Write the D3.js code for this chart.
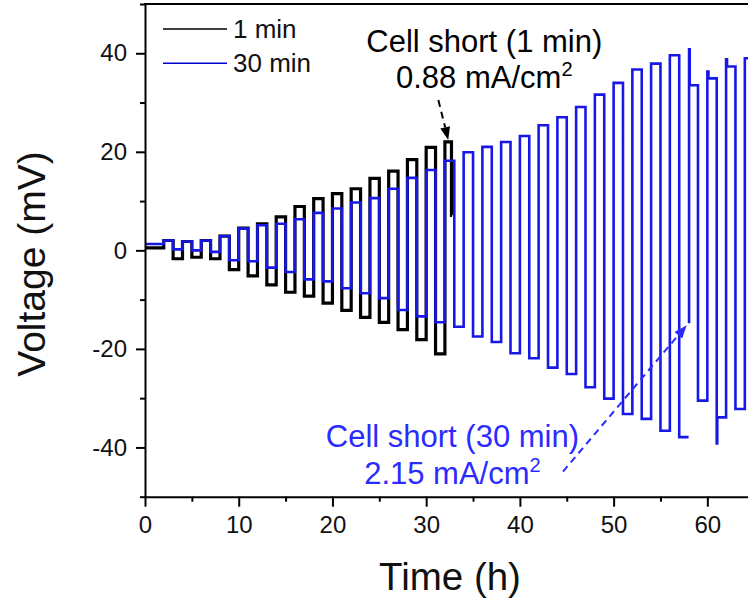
<!DOCTYPE html>
<html>
<head>
<meta charset="utf-8">
<script src="https://cdn.jsdelivr.net/npm/d3@7/dist/d3.min.js"></script>
<style>
  html, body { margin: 0; padding: 0; background: #fff; }
  svg { display: block; }
  text { font-family: "Liberation Sans", Arial, sans-serif; }
</style>
</head>
<body>
<svg id="chart" width="748" height="601"></svg>
<script>
// ---------------- DATA ----------------
// Step series: [start time (h), voltage (mV)]; null = break in trace
const blueSteps = [
  [0,1.3],[2,2.0],[3,0.2],[4,1.8],[5,0.0],[6,2.0],[7,-0.3],[8,2.9],[9,-2.0],
  [10,4.4],[11,-2.2],[12,5.1],[13,-3.5],[14,5.4],[15,-4.4],[16,6.3],[17,-5.9],
  [18,7.6],[19,-6.3],[20,8.5],[21,-7.7],[22,9.7],[23,-8.7],[24,10.6],[25,-9.7],
  [26,12.5],[27,-12.1],[28,14.7],[29,-13.4],[30,16.3],[31,-14.6],[32,18.2],[33,-15.5],
  [34,19.9],[35,-17.5],[36,21.0],[37,-18.6],[38,22.0],[39,-20.9],[40,23.2],[41,-21.9],
  [42,25.4],[43,-23.8],[44,27.0],[45,-25.1],[46,29.1],[47,-27.8],[48,31.6],[49,-30.1],
  [50,34.0],[51,-33.2],[52,36.7],[53,-34.2],[54,37.9],[55,-36.6],[56,39.6],[57,-37.9],
  [58,-37.9], null,
  [58.05,-14.8],[58.05,40.8],[58.12,33.5],[59,-30.5],[60,36.3],[60.12,34.9],
  [61,-39.2],[61.06,-33.9],[62,38.8],[62.1,37.3],[63,-32.2],[64,39.0],[65,-33.5],[66,-33.5]
];
const blackSteps = [
  [0,0.5],[2,2.0],[3,-1.7],[4,1.8],[5,-1.4],[6,2.0],[7,-1.7],[8,2.9],[9,-3.9],
  [10,4.5],[11,-5.2],[12,5.4],[13,-7.0],[14,6.8],[15,-8.5],[16,8.9],[17,-9.3],
  [18,10.5],[19,-10.7],[20,11.5],[21,-12.2],[22,12.5],[23,-13.6],[24,14.6],[25,-14.6],
  [26,16.1],[27,-16.1],[28,18.4],[29,-18.1],[30,20.9],[31,-21.0],[32,22.0],
  [32.7,7.1],[32.75,7.1]
];
const seriesNames = ["1 min", "30 min"];
const seriesColors = ["#000000", "#1818e6"];
const legendColors = ["#000000", "#0000cc"];
const xMajorTicks = [0,10,20,30,40,50,60];
const xMinorTicks = [5,15,25,35,45,55,65];
const yMajorTicks = [-40,-20,0,20,40];
const yMinorTicks = [-50,-30,-10,10,30,50];
const xDomain = [0, 65];
const yDomain = [-50, 50];

// annotations in data coordinates
const annotations = [
  { lines: ["Cell short (1 min)", "0.88 mA/cm"], sup: "2", x: 36.2, y: [40.3, 32.9],
    color: "#000000", arrowFrom: [31.3, 30.5], arrowTo: [32.36, 22.4] },
  { lines: ["Cell short (30 min)", "2.15 mA/cm"], sup: "2", x: 32.8, y: [-39.9, -47.4],
    color: "#2b2bff", arrowFrom: [44.6, -44.9], arrowTo: [57.8, -15.2] }
];

// ---------------- LAYOUT ----------------
const svg = d3.select("#chart");
const L = 145, T = 4, B = 496.7, R = 754.2;
const x = d3.scaleLinear().domain(xDomain).range([L, R]);
const y = d3.scaleLinear().domain(yDomain).range([B, T]);

svg.append("defs").append("clipPath").attr("id", "plotclip")
  .append("rect").attr("x", L).attr("y", T).attr("width", R - L).attr("height", B - T);

const line = d3.line()
  .defined(d => d !== null)
  .x(d => x(d[0])).y(d => y(d[1]))
  .curve(d3.curveStepAfter);

const plot = svg.append("g").attr("clip-path", "url(#plotclip)");
plot.append("path").datum(blackSteps)
  .attr("d", line).attr("fill", "none")
  .attr("stroke", seriesColors[0]).attr("stroke-width", 3.2).attr("stroke-linejoin", "miter");
plot.append("path").datum(blueSteps)
  .attr("d", line).attr("fill", "none")
  .attr("stroke", seriesColors[1]).attr("stroke-width", 2.6).attr("stroke-linejoin", "miter");

// ---------------- AXES ----------------
const fmt = d => String(d);
svg.append("g").attr("transform", `translate(0,${B})`)
  .call(d3.axisBottom(x).tickValues(xMajorTicks).tickFormat(fmt).tickSize(10).tickPadding(9).tickSizeOuter(0));
svg.append("g").attr("transform", `translate(0,${B})`)
  .call(d3.axisBottom(x).tickValues(xMinorTicks).tickFormat("").tickSize(5).tickSizeOuter(0))
  .select(".domain").remove();
svg.append("g").attr("transform", `translate(${L},0)`)
  .call(d3.axisLeft(y).tickValues(yMajorTicks).tickFormat(fmt).tickSize(9).tickPadding(9).tickSizeOuter(0));
svg.append("g").attr("transform", `translate(${L},0)`)
  .call(d3.axisLeft(y).tickValues(yMinorTicks).tickFormat("").tickSize(5).tickSizeOuter(0))
  .select(".domain").remove();

svg.selectAll(".domain").attr("stroke", "#000").attr("stroke-width", 2);
svg.selectAll(".tick line").attr("stroke", "#000").attr("stroke-width", 2);
svg.selectAll(".tick text").attr("font-size", 24).attr("fill", "#111")
  .attr("font-family", "Liberation Sans, Arial, sans-serif");

// top frame line
svg.append("line").attr("x1", L - 1).attr("x2", R).attr("y1", T).attr("y2", T)
  .attr("stroke", "#000").attr("stroke-width", 2);

// axis titles
svg.append("text").attr("x", 450).attr("y", 590)
  .attr("text-anchor", "middle").attr("font-size", 38.5).attr("fill", "#111").text("Time (h)");
svg.append("text").attr("transform", "translate(45,264) rotate(-90)")
  .attr("text-anchor", "middle").attr("font-size", 39).attr("fill", "#111").text("Voltage (mV)");

// ---------------- LEGEND ----------------
const legendY = [29, 63.3];
seriesNames.forEach((name, i) => {
  svg.append("line").attr("x1", 163).attr("x2", 227).attr("y1", legendY[i]).attr("y2", legendY[i])
    .attr("stroke", legendColors[i]).attr("stroke-width", 1.6);
  svg.append("text").attr("x", 233).attr("y", legendY[i] + 9)
    .attr("font-size", 26).attr("fill", "#111").text(name);
});

// ---------------- ANNOTATIONS ----------------
annotations.forEach(a => {
  a.lines.forEach((ln, j) => {
    const t = svg.append("text").attr("x", x(a.x)).attr("y", y(a.y[j]))
      .attr("text-anchor", "middle").attr("font-size", 31).attr("fill", a.color);
    t.append("tspan").text(ln);
    if (j === 1) t.append("tspan").attr("dy", -12).attr("font-size", 20).text(a.sup);
  });
  const x1 = x(a.arrowFrom[0]), y1 = y(a.arrowFrom[1]);
  const x2 = x(a.arrowTo[0]), y2 = y(a.arrowTo[1]);
  const ang = Math.atan2(y2 - y1, x2 - x1);
  const hl = 13, hw = 5;
  const bx = x2 - hl * Math.cos(ang), by = y2 - hl * Math.sin(ang);
  svg.append("line").attr("x1", x1).attr("y1", y1).attr("x2", bx).attr("y2", by)
    .attr("stroke", a.color).attr("stroke-width", 2).attr("stroke-dasharray", "7,5");
  const px = -Math.sin(ang), py = Math.cos(ang);
  svg.append("path")
    .attr("d", `M${x2},${y2}L${bx + hw * px},${by + hw * py}L${bx - hw * px},${by - hw * py}Z`)
    .attr("fill", a.color);
});
</script>
</body>
</html>
